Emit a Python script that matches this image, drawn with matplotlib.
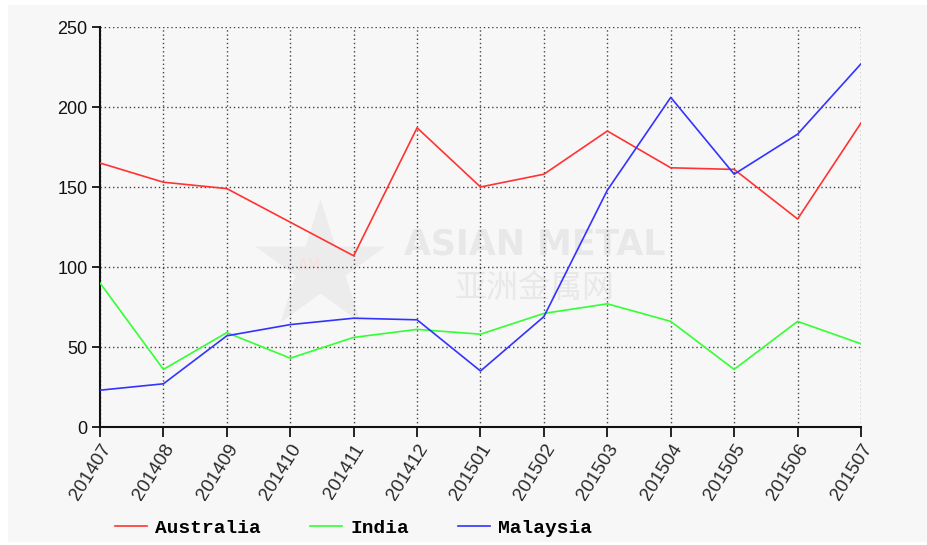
import numpy as np
import matplotlib.pyplot as plt
from matplotlib.patches import Rectangle

# Data ---------------------------------------------------------------
months = ['201407', '201408', '201409', '201410', '201411', '201412',
          '201501', '201502', '201503', '201504', '201505', '201506', '201507']
australia = [165, 153, 149, 128, 107, 187, 150, 158, 185, 162, 161, 130, 190]
india = [90, 36, 59, 43, 56, 61, 58, 71, 77, 66, 36, 66, 52]
malaysia = [23, 27, 57, 64, 68, 67, 35, 69, 148, 206, 158, 183, 227]

y_ticks = [0, 50, 100, 150, 200, 250]

# Figure ---------------------------------------------------------------
fig = plt.figure(figsize=(9.28, 5.45), dpi=100, facecolor='white')
# light grey panel behind everything
fig.patches.append(Rectangle((8 / 928, 3 / 545), 920 / 928, 537 / 545,
                             transform=fig.transFigure, facecolor='#f7f7f7',
                             edgecolor='none', zorder=-10))

ax = fig.add_axes([100 / 928, 1 - 427 / 545, 761 / 928, 400 / 545])
ax.set_facecolor('none')

x = np.arange(len(months))

# watermark
ax.plot([3.47], [100], marker='*', markersize=98, color='#ececec',
        markeredgecolor='none', zorder=0)
ax.text(3.3, 101, 'AM', color='#f7e0e0', fontsize=11, ha='center',
        va='center', zorder=0)
ax.text(6.86, 114, 'ASIAN METAL', color='#e8e8e8', fontsize=25,
        fontweight='bold', ha='center', va='center', zorder=0,
        family='DejaVu Sans')
ax.text(6.86, 87, '亚洲金属网', color='#e8e8e8', fontsize=23,
        ha='center', va='center', zorder=0,
        family=['Noto Sans CJK SC', 'DejaVu Sans'])

ax.plot(x, australia, color='#ff3333', lw=1.2, label='Australia', zorder=3)
ax.plot(x, india, color='#33ff33', lw=1.2, label='India', zorder=3)
ax.plot(x, malaysia, color='#3333ff', lw=1.2, label='Malaysia', zorder=3)

ax.set_xlim(0, len(months) - 1)
ax.set_ylim(0, 250)
ax.set_xticks(x)
ax.set_xticklabels(months, rotation=58, ha='right', rotation_mode='anchor',
                   fontsize=13.5, family='Liberation Sans', color='#2a2a2a')
ax.set_yticks(y_ticks)
ax.set_yticklabels([str(v) for v in y_ticks], fontsize=13,
                   family='Liberation Sans', color='#111111')

ax.grid(True, linestyle=(0, (1, 2)), color='#444444', lw=1.0, zorder=1)
for side in ['top', 'right']:
    ax.spines[side].set_visible(False)
for side in ['left', 'bottom']:
    ax.spines[side].set_linewidth(1.5)
    ax.spines[side].set_color('#111111')
ax.tick_params(axis='y', length=6, width=1.2, pad=3)
ax.tick_params(axis='x', length=7, width=1.2, pad=3)

leg = fig.legend(loc='lower left', bbox_to_anchor=(115 / 928, 8 / 545),
                 ncol=3, frameon=False, borderpad=0, borderaxespad=0,
                 handlelength=1.65, handletextpad=0.4, columnspacing=2.55,
                 prop={'family': 'Liberation Mono', 'weight': 'bold',
                       'size': 14})

fig.savefig('out.png', dpi=100, facecolor=fig.get_facecolor())
